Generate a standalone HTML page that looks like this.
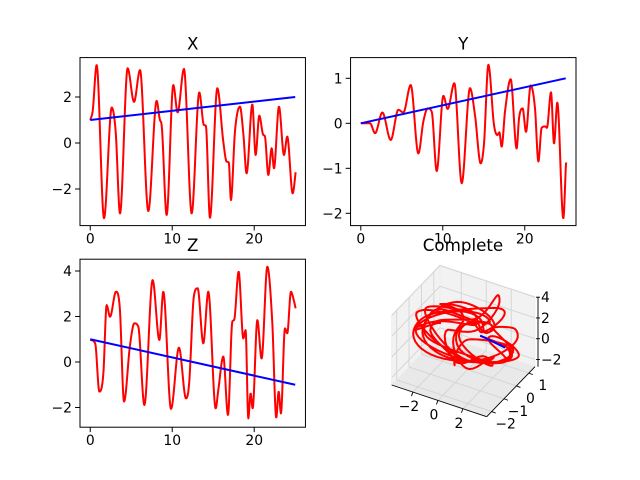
<!DOCTYPE html>
<html><head><meta charset="utf-8"><style>
html,body{margin:0;padding:0;background:#fff;}
svg{display:block;font-family:"DejaVu Sans","Liberation Sans",sans-serif;}
</style></head><body>
<svg id="fig" width="640" height="480" viewBox="0 0 640 480"></svg>
<script>
// ---- data (t, value) ----
const xT = [0,0.3,0.78,1.68,2.62,3.1,3.63,4.56,5.34,6.07,7.08,8.1,8.5,8.7,9.32,10.13,10.66,11.43,12.37,13.3,13.87,14.1,14.6,15.5,16.23,16.64,16.9,17.16,17.65,18.26,18.67,19.07,19.77,20.17,20.62,21.11,21.3,21.72,22.13,22.41,23.02,23.63,24.03,24.69,25.1];
const xV = [1.0,1.4,3.39,-3.27,1.54,0.5,-3.06,3.25,1.79,3.17,-2.96,1.83,1.0,0.8,-3.13,2.52,1.33,3.22,-3.06,2.2,0.78,0.75,-3.25,2.38,0.06,-0.81,-0.85,-2.48,0.49,1.58,0.42,-1.32,1.68,-0.52,1.19,0.35,0.3,-1.39,-0.23,-1.10,1.58,-0.52,0.28,-2.19,-1.13];
const yT = [0,1.13,1.74,2.63,3.65,4.58,5.19,6.09,7.02,7.63,8.16,8.65,9.26,10.07,10.6,11.41,12.31,13.32,13.93,14.62,15.03,15.56,16.25,16.66,16.9,17.18,17.59,18.28,19.01,19.3,19.74,20.15,20.72,21.25,21.66,22.06,22.5,22.7,23.2,23.57,23.97,24.7,25.03];
const yV = [0.0,0.0,-0.22,0.24,-0.37,0.30,0.24,0.85,-0.67,0.04,0.33,0.26,-1.06,0.61,0.32,0.89,-1.33,0.78,0.18,-0.89,-0.45,1.30,-0.04,-0.26,-0.2,-0.52,0.26,0.98,-0.56,0.11,0.33,-0.19,0.84,0.33,-0.85,-0.1,-0.07,-0.1,0.69,-0.45,0.46,-2.11,-0.87];
const zT = [0,0.6,1.11,1.6,2.0,2.41,3.14,3.6,4.12,4.85,5.38,5.86,6.6,7.61,8.43,8.91,9.85,10.82,11.68,12.05,12.65,13.1,13.79,14.4,15.3,15.62,16.23,16.8,17.33,17.55,18.1,18.67,18.95,19.28,19.56,19.81,20.38,20.9,21.6,22.2,22.69,22.98,23.26,23.75,24.03,24.48,24.77,25.05];
const zV = [0.97,0.82,-1.3,-0.5,2.5,1.99,3.09,2.4,-1.74,0.74,1.70,1.55,-1.89,3.6,0.97,3.09,-2.06,0.63,-1.6,-1.0,2.92,3.24,0.82,3.09,-2.04,-1.23,0.24,-2.33,1.77,1.85,3.97,1.04,1.4,-2.48,-1.38,-2.04,1.84,0.15,4.19,1.77,-2.45,-1.3,-2.26,1.48,1.26,3.09,2.8,2.36];
const lineT = [0,25];
const xLine = [1,2];
const yLine = [0,1];
const zLine = [1,-1];
const tTicks = [0,10,20];
const xTicks = [-2,0,2];
const yTicks = [-2,-1,0,1];
const zTicks = [-2,0,2,4];

const NS="http://www.w3.org/2000/svg";
const svg=document.getElementById('fig');
function mk(tag,attrs,parent){const e=document.createElementNS(NS,tag);for(const k in attrs)e.setAttribute(k,attrs[k]);(parent||svg).appendChild(e);return e;}

function interp(T,V){
  const n=T.length,d=[],m=[];
  for(let i=0;i<n-1;i++)d.push((V[i+1]-V[i])/(T[i+1]-T[i]));
  m[0]=d[0];m[n-1]=d[n-2];
  for(let i=1;i<n-1;i++){m[i]=(d[i-1]*d[i]<=0)?0:(d[i-1]+d[i])/2;}
  for(let i=0;i<n-1;i++){if(d[i]===0){m[i]=0;m[i+1]=0;continue;}const a=m[i]/d[i],b=m[i+1]/d[i],s=a*a+b*b;if(s>9){const tt=3/Math.sqrt(s);m[i]=tt*a*d[i];m[i+1]=tt*b*d[i];}}
  return function(t){
    let i=0;while(i<n-2&&t>T[i+1])i++;
    const h=T[i+1]-T[i],u=Math.min(1,Math.max(0,(t-T[i])/h));
    const h00=2*u*u*u-3*u*u+1,h10=u*u*u-2*u*u+u,h01=-2*u*u*u+3*u*u,h11=u*u*u-u*u;
    return h00*V[i]+h10*h*m[i]+h01*V[i+1]+h11*h*m[i+1];
  };
}
const fx=interp(xT,xV),fy=interp(yT,yV),fz=interp(zT,zV);
const lin=(A)=>t=>A[0]+(A[1]-A[0])*(t-lineT[0])/(lineT[1]-lineT[0]);
const N=600,tMax=25.05,ts=[];for(let i=0;i<=N;i++)ts.push(tMax*i/N);

function panel(name,L,T,W,H,ymin,ymax,f,fl,yt,title){
  const g=mk('g',{});
  const sx=t=>L+(t+1.25)*W/27.5, sy=v=>T+(ymax-v)*H/(ymax-ymin);
  const cid='clip-'+name;const cp=mk('clipPath',{id:cid},g);mk('rect',{x:L,y:T,width:W,height:H},cp);
  let d='';ts.forEach((t,i)=>{d+=(i?'L':'M')+sx(t).toFixed(2)+','+sy(f(t)).toFixed(2);});
  const r=mk('path',{d:d,fill:'none',stroke:'#ff0000','stroke-width':2,'stroke-linejoin':'round','clip-path':`url(#${cid})`},g);
  
  const b=mk('line',{x1:sx(lineT[0]),y1:sy(fl(lineT[0])),x2:sx(lineT[1]),y2:sy(fl(lineT[1])),stroke:'#0000ff','stroke-width':2},g);
  
  mk('rect',{x:L,y:T,width:W,height:H,fill:'none',stroke:'#000','stroke-width':1,},g);
  tTicks.forEach(t=>{const x=sx(t);mk('line',{x1:x,y1:T+H,x2:x,y2:T+H+4.9,stroke:'#000','stroke-width':1},g);
    const tx=mk('text',{x:x,y:T+H+18,'font-size':13.9,'text-anchor':'middle'},g);tx.textContent=t;
    });
  yt.forEach(v=>{const y=sy(v);mk('line',{x1:L-4.9,y1:y,x2:L,y2:y,stroke:'#000','stroke-width':1},g);
    const tx=mk('text',{x:L-8,y:y+5,'font-size':13.9,'text-anchor':'end'},g);tx.textContent=(v<0?'\u2212'+(-v):v);
    });
  const tt=mk('text',{x:L+W/2,y:T-8,'font-size':16.7,'text-anchor':'middle'},g);tt.textContent=title;
  
}
panel('x',80,57.6,225.45,168,-3.591,3.713,fx,lin(xLine),xTicks,'X');
panel('y',350.55,57.6,225.45,168,-2.273,1.46,fy,lin(yLine),yTicks,'Y');
panel('z',80,259.2,225.45,168,-2.866,4.519,fz,lin(zLine),zTicks,'Z');

// ---- 3D panel ----
const g3=mk('g',{});
const X0=-3.7,X1=3.9,Y0=-2.4,Y1=1.5,Z0=-2.7,Z1=4.05;
const O=[391.7,385],EX=[95,31.7],EY=[48.3,-50],EZ=70;
function P(x,y,z){const a=(x-X0)/(X1-X0),b=(y-Y0)/(Y1-Y0),c=(z-Z0)/(Z1-Z0);return [O[0]+a*EX[0]+b*EY[0],O[1]+a*EX[1]+b*EY[1]-c*EZ];}
function poly(pts,fill,nm){const e=mk('polygon',{points:pts.map(p=>p.join(',')).join(' '),fill:fill,stroke:'#ebebeb','stroke-width':0.8},g3);}
poly([P(X0,Y0,Z0),P(X0,Y1,Z0),P(X0,Y1,Z1),P(X0,Y0,Z1)],'#f2f2f2','left-pane');
poly([P(X0,Y1,Z0),P(X1,Y1,Z0),P(X1,Y1,Z1),P(X0,Y1,Z1)],'#f2f2f2','back-pane');
poly([P(X0,Y0,Z0),P(X1,Y0,Z0),P(X1,Y1,Z0),P(X0,Y1,Z0)],'#e9e9e9','floor-pane');
const gl=(a,b)=>mk('line',{x1:a[0],y1:a[1],x2:b[0],y2:b[1],stroke:'#d3d3d3','stroke-width':0.9},g3);
xTicks.forEach(x=>{gl(P(x,Y0,Z0),P(x,Y1,Z0));gl(P(x,Y1,Z0),P(x,Y1,Z1));});
yTicks.forEach(y=>{gl(P(X0,y,Z0),P(X1,y,Z0));gl(P(X0,y,Z0),P(X0,y,Z1));});
zTicks.forEach(z=>{gl(P(X0,Y0,z),P(X0,Y1,z));gl(P(X0,Y1,z),P(X1,Y1,z));});
const al=(a,b,nm)=>{const e=mk('line',{x1:a[0],y1:a[1],x2:b[0],y2:b[1],stroke:'#000','stroke-width':0.9},g3);};
al(P(X0,Y0,Z0),P(X1,Y0,Z0),'x3d-axis');al(P(X1,Y0,Z0),P(X1,Y1,Z0),'y3d-axis');
const zoff=3;const zb=P(X1,Y1,Z0),zt=P(X1,Y1,Z1);al([zb[0]+zoff,zb[1]],[zt[0]+zoff,zt[1]],'z3d-axis');
xTicks.forEach(x=>{const p=P(x,Y0,Z0);mk('line',{x1:p[0],y1:p[1],x2:p[0]-1.5,y2:p[1]+4,stroke:'#000','stroke-width':0.9},g3);
  const t=mk('text',{x:p[0]-4,y:p[1]+19,'font-size':13.9,'text-anchor':'middle'},g3);t.textContent=(x<0?'\u2212'+(-x):x);
  });
yTicks.forEach(y=>{const p=P(X1,y,Z0);mk('line',{x1:p[0],y1:p[1],x2:p[0]+4,y2:p[1]+1.5,stroke:'#000','stroke-width':0.9},g3);
  const t=mk('text',{x:p[0]+14,y:p[1]+17,'font-size':13.9,'text-anchor':'middle'},g3);t.textContent=(y<0?'\u2212'+(-y):y);
  });
zTicks.forEach(z=>{const p=P(X1,Y1,z);const x=p[0]+zoff;mk('line',{x1:x-2,y1:p[1],x2:x+2,y2:p[1],stroke:'#000','stroke-width':0.9},g3);
  const t=mk('text',{x:x+3,y:p[1]+5,'font-size':13.9,'text-anchor':'start'},g3);t.textContent=(z<0?'\u2212'+(-z):z);
  });
let d3='';ts.forEach((t,i)=>{const p=P(fx(t),fy(t),fz(t));d3+=(i?'L':'M')+p[0].toFixed(2)+','+p[1].toFixed(2);});
const c3=mk('path',{d:d3,fill:'none',stroke:'#ff0000','stroke-width':2,'stroke-linejoin':'round'},g3);

const la=P(xLine[0],yLine[0],zLine[0]),lb=P(xLine[1],yLine[1],zLine[1]);
const b3=mk('line',{x1:la[0],y1:la[1],x2:lb[0],y2:lb[1],stroke:'#0000ff','stroke-width':2},g3);

const ct=mk('text',{x:463,y:251,'font-size':16.7,'text-anchor':'middle'},g3);ct.textContent='Complete';

</script>
</body></html>
